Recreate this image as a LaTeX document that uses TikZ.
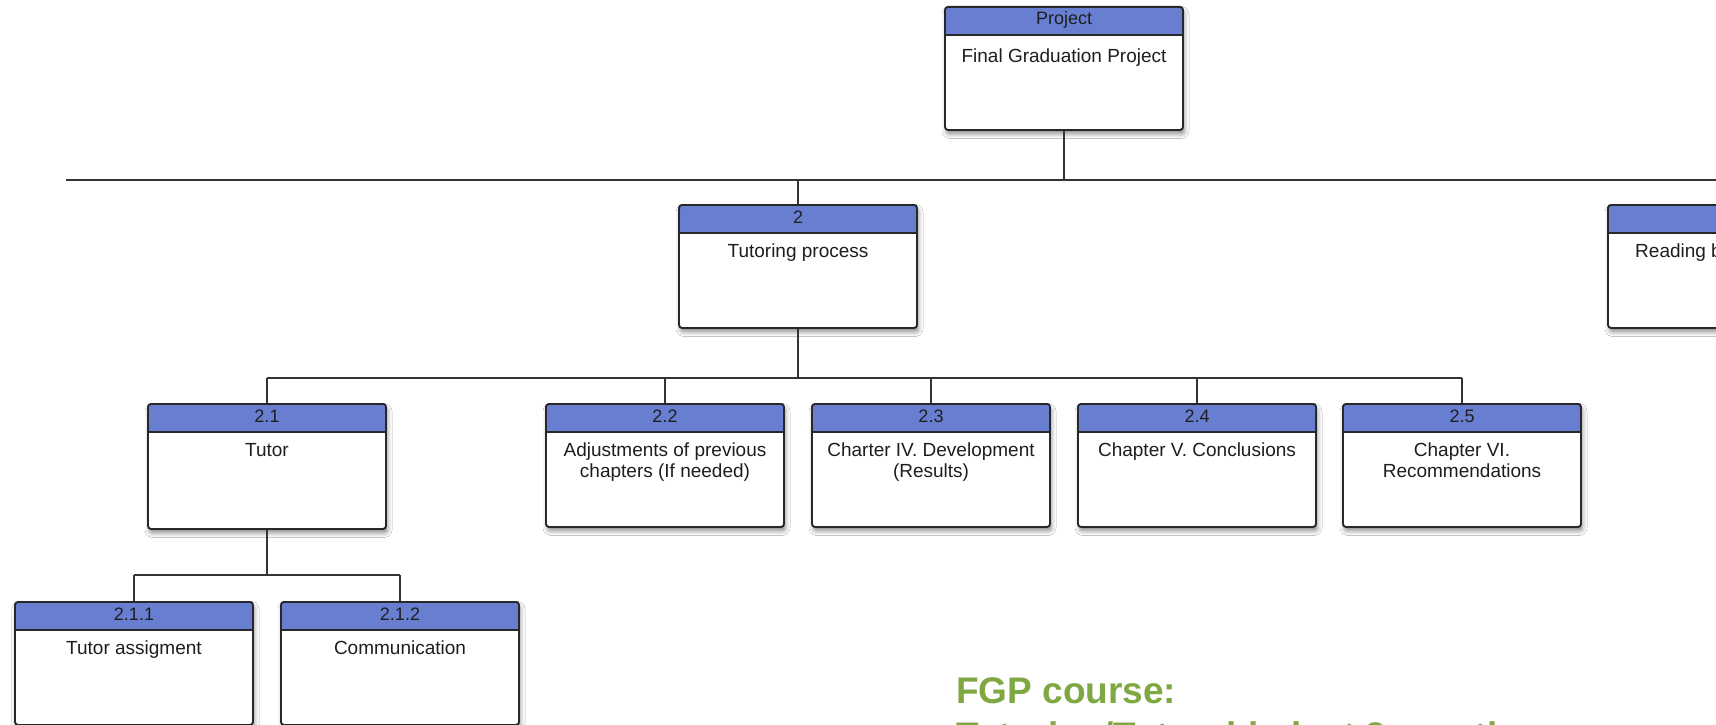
\documentclass[tikz,border=0pt]{standalone}
\usepackage{fontspec}
\setmainfont{Liberation Sans}
\usetikzlibrary{shadows.blur}

\definecolor{headblue}{RGB}{104,127,209}
\definecolor{boxline}{RGB}{40,40,40}
\definecolor{connline}{RGB}{52,52,52}
\definecolor{txtdark}{RGB}{30,30,30}
\definecolor{titlegreen}{RGB}{127,167,66}

\tikzset{
  wbsbox/.style={draw=boxline, line width=1.9pt, rounded corners=3pt, fill=white,
    minimum width=238pt, minimum height=123pt, inner sep=0pt, anchor=north,
    blur shadow={shadow xshift=1.5pt, shadow yshift=-4pt,
                 shadow blur radius=4.5pt, shadow opacity=45},
    path picture={
      \fill[headblue] (path picture bounding box.north west)
        rectangle ([yshift=-28pt]path picture bounding box.north east);
      \draw[boxline, line width=1.9pt]
        ([yshift=-28pt]path picture bounding box.north west)
        -- ([yshift=-28pt]path picture bounding box.north east);
    }},
  headtxt/.style={anchor=base, inner sep=0pt, text=txtdark,
    font=\fontsize{18}{20}\selectfont},
  bodytxt/.style={anchor=north, inner sep=0pt, align=center, text=txtdark,
    font=\fontsize{19}{21}\selectfont},
  conn/.style={draw=connline, line width=1.4pt},
  titletxt/.style={anchor=base west, inner sep=0pt, text=titlegreen,
    font=\fontsize{37}{45}\bfseries\selectfont}
}

% one work-package box: name, centre x, top y, number, title
\newcommand\wbspackage[5]{%
  \node[wbsbox] (#1) at (#2,#3) {};
  \node[headtxt] (#1-h) at ([yshift=-19pt]#1.north) {#4};
  \node[bodytxt] (#1-t) at ([yshift=-40pt]#1.north) {#5};
}

\begin{document}
\begin{tikzpicture}[x=1pt, y=-1pt]
  \useasboundingbox (0,0) rectangle (1716,725);
  \clip (0,0) rectangle (1716,725);
  \fill[white] (0,0) rectangle (1716,725);

  % bus lines
  \coordinate (busA) at (66,180);
  \coordinate (busAend) at (1716,180);
  \coordinate (busB) at (0,378);
  \coordinate (busC) at (0,575);

  % level 0
  \node[wbsbox] (proj) at (1064,6) {};
  \node[headtxt] (proj-h) at ([yshift=-19pt]proj.north) {Project};
  \node[bodytxt] (proj-t) at ([yshift=-43pt]proj.north) {Final Graduation Project};

  % level 1
  \wbspackage{b2}{798}{204}{2}{Tutoring process}
  \node[wbsbox] (b3) at (1727,204) {};
  \node[bodytxt, anchor=base west] (b3-t) at (1635,257) {Reading b};

  % level 2
  \node[wbsbox, minimum height=125pt] (b21) at (267,403) {};
  \node[headtxt] (b21-h) at ([yshift=-19pt]b21.north) {2.1};
  \node[bodytxt] (b21-t) at ([yshift=-40pt]b21.north) {Tutor};
  \wbspackage{b22}{665}{403}{2.2}{Adjustments of previous\\chapters (If needed)}
  \wbspackage{b23}{931}{403}{2.3}{Charter IV. Development\\(Results)}
  \wbspackage{b24}{1197}{403}{2.4}{Chapter V. Conclusions}
  \wbspackage{b25}{1462}{403}{2.5}{Chapter VI.\\Recommendations}

  % level 3
  \wbspackage{b211}{134}{601}{2.1.1}{Tutor assigment}
  \wbspackage{b212}{400}{601}{2.1.2}{Communication}

  % connectors
  \draw[conn] (busA) -- (busAend);
  \draw[conn] (proj.south) -- (proj.south |- busA);
  \draw[conn] (b2.north) -- (b2.north |- busA);
  \draw[conn] (b3.north) -- (b3.north |- busA);

  \draw[conn] (b2.south) -- (b2.south |- busB);
  \draw[conn] (b21.north |- busB) -- (b25.north |- busB);
  \foreach \n in {b21,b22,b23,b24,b25}
    \draw[conn] (\n.north) -- (\n.north |- busB);

  \draw[conn] (b21.south) -- (b21.south |- busC);
  \draw[conn] (b211.north |- busC) -- (b212.north |- busC);
  \foreach \n in {b211,b212}
    \draw[conn] (\n.north) -- (\n.north |- busC);

  % course caption
  \node[titletxt] (cap1) at (956,703) {FGP course:};
  \node[titletxt] (cap2) at (956,748) {Tutoring/Tutorship last 3 months};
\end{tikzpicture}
\end{document}
